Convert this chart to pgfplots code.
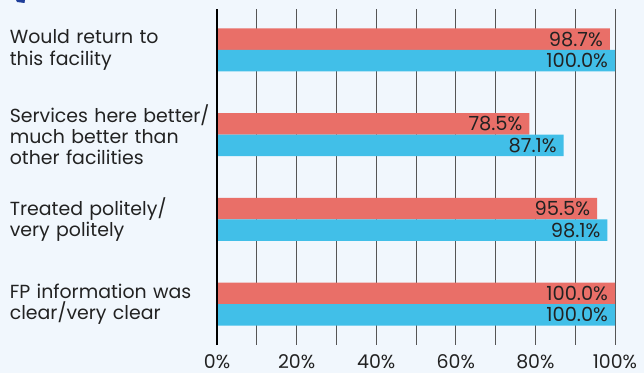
\documentclass[border=0pt]{standalone}
\usepackage{pgfplots}
\pgfplotsset{compat=1.18}
\usepackage{fontspec}
\setmainfont{Poppins}
\definecolor{bg}{HTML}{F1F7FD}
\definecolor{redbar}{HTML}{E96F68}
\definecolor{bluebar}{HTML}{41BFE8}
\definecolor{txt}{HTML}{222222}
\definecolor{gridc}{HTML}{555555}
\definecolor{cornermark}{HTML}{1F3E99}
\begin{document}
\begin{tikzpicture}
\useasboundingbox (0,0) rectangle (644bp,373bp);
\fill[bg] (0,0) rectangle (644bp,373bp);
\fill[cornermark] (16bp,373bp) -- (25bp,373bp) -- (24.5bp,370bp) -- (17bp,371bp) -- cycle;
\begin{axis}[
  at={(217bp,28bp)}, anchor=south west,
  width=398bp, height=336bp, scale only axis,
  /pgf/number format/assume math mode=true,
  xbar, bar width=21.5bp,
  xmin=0, xmax=100,
  ymin=-0.484, ymax=3.484,
  y dir=reverse,
  ytick={0,1,2,3},
  yticklabels={{Would return to\\this facility},{Services here better/\\much better than\\other facilities},{Treated politely/\\very politely},{FP information was\\clear/very clear}},
  yticklabel style={text width=205bp, align=left, inner sep=0pt, anchor=east, xshift=-2bp, font=\fontsize{19}{21.5}\selectfont, text=txt},
  xtick={0,20,...,100},
  xticklabels={0\%,20\%,40\%,60\%,80\%,100\%},
  minor xtick={10,30,...,90},
  xticklabel style={font=\fontsize{19}{20}\selectfont, text=txt, inner sep=0pt, yshift=-9bp},
  xmajorgrids, xminorgrids,
  major grid style={gridc, line width=1bp},
  minor grid style={gridc, line width=1bp},
  major tick length=0pt, minor tick length=0pt,
  axis line style={draw=none},
  nodes near coords={\pgfmathprintnumber[fixed,fixed zerofill,precision=1]{\pgfplotspointmeta}\%},
  nodes near coords style={anchor=east, xshift=-3.5bp, font=\fontsize{19.5}{20}\selectfont, text=txt},
  point meta=x,
  clip=false,
]
\addplot[fill=redbar, draw=none, bar shift=10.75bp] coordinates {(98.7,0) (78.5,1) (95.5,2) (100.0,3)};
\addplot[fill=bluebar, draw=none, bar shift=-10.75bp] coordinates {(100.0,0) (87.1,1) (98.1,2) (100.0,3)};
\draw[black, line width=1.3bp] (rel axis cs:0,0) -- (rel axis cs:0,1);
\end{axis}
\end{tikzpicture}
\end{document}
